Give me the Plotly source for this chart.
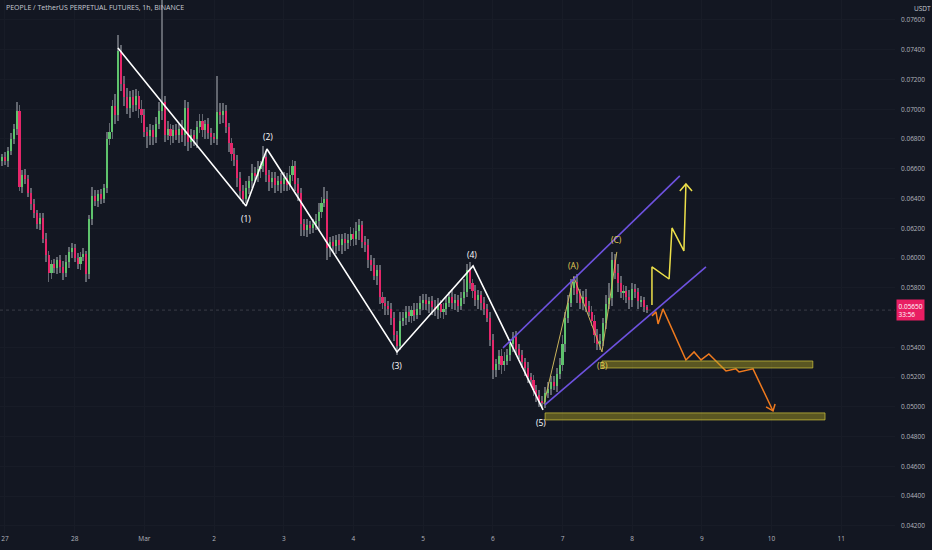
import plotly.graph_objects as go

# ---------------- data (prices in 1e-5 USDT units for candles) ----------------
hours = list(range(-1, 222))  # hour index, 0 = 27 Feb 00:00

first_open_e5 = 6650
close_e5 = [
    6680, 6650, 6720, 6800, 6870, 6990, 6480, 6560, 6530, 6440,
    6360, 6300, 6230, 6270, 6130, 6020, 5900, 5960, 5930, 5990,
    5940, 5900, 5970, 6040, 6070, 6000, 5960, 6010, 6030, 5890,
    6260, 6420, 6380, 6430, 6400, 6470, 6800, 6850, 7020, 6960,
    7390, 7170, 7080, 7010, 7080, 7030, 7090, 7000, 6960, 6850,
    6820, 6860, 6810, 6900, 6990, 7050, 6830, 6870, 6820, 6860,
    6830, 6870, 6830, 7010, 6780, 6830, 6800, 6880, 6920, 6860,
    6900, 6840, 6810, 6800, 6980, 6960, 6990, 6880, 6770, 6700,
    6660, 6540, 6450, 6400, 6470, 6520, 6570, 6550, 6600, 6620,
    6680, 6560, 6510, 6540, 6490, 6520, 6500, 6540, 6490, 6560,
    6620, 6500, 6440, 6230, 6190, 6220, 6200, 6230, 6250, 6310,
    6370, 6400, 6070, 6110, 6080, 6120, 6090, 6130, 6100, 6120,
    6160, 6130, 6180, 6220, 6110, 6090, 5990, 5950, 5880, 5920,
    5740, 5700, 5680, 5660, 5600, 5480, 5410, 5580, 5600, 5640,
    5610, 5650, 5620, 5660, 5700, 5720, 5690, 5710, 5670, 5650,
    5690, 5640, 5660, 5700, 5740, 5700, 5720, 5680, 5730, 5770,
    5920, 5830, 5780, 5720, 5750, 5700, 5660, 5600, 5450, 5250,
    5290, 5340, 5280, 5310, 5350, 5420, 5470, 5390, 5350, 5300,
    5260, 5200, 5180, 5110, 5080, 5040, 5030, 5090, 5120, 5170,
    5140, 5220, 5280, 5420, 5600, 5700, 5800, 5840, 5760, 5700,
    5740, 5680, 5640, 5580, 5480, 5420, 5440, 5560, 5690, 5730,
    5990, 5900, 5830, 5770, 5780, 5740, 5720, 5790, 5770, 5710,
    5720, 5670, 5650,
]
upper_wick_e5 = [
    20, 30, 25, 40, 30, 60, 40, 30, 35, 25,
    30, 40, 25, 35, 30, 40, 25, 30, 35, 20,
    30, 40, 50, 35, 30, 25, 35, 30, 40, 20,
    30, 60, 40, 30, 35, 30, 50, 60, 45, 80,
    110, 40, 50, 60, 40, 50, 45, 30, 60, 40,
    30, 40, 35, 50, 60, 750, 40, 50, 30, 35,
    40, 30, 60, 50, 40, 35, 30, 40, 50, 45,
    30, 40, 35, 30, 240, 60, 50, 40, 30, 35,
    40, 30, 35, 40, 50, 30, 60, 40, 50, 30,
    70, 40, 30, 35, 40, 30, 50, 40, 30, 60,
    40, 30, 40, 30, 35, 40, 30, 35, 45, 60,
    40, 80, 50, 30, 40, 35, 40, 30, 35, 40,
    50, 40, 60, 40, 30, 35, 40, 30, 50, 30,
    35, 30, 40, 30, 35, 40, 30, 60, 40, 35,
    40, 30, 50, 40, 45, 35, 40, 30, 35, 45,
    40, 30, 35, 40, 30, 50, 35, 30, 40, 90,
    40, 50, 30, 40, 35, 30, 40, 30, 35, 40,
    30, 40, 50, 60, 40, 35, 30, 40, 30, 35,
    30, 40, 30, 35, 40, 30, 35, 40, 50, 40,
    35, 40, 50, 60, 40, 50, 60, 40, 50, 35,
    40, 50, 30, 40, 35, 40, 50, 40, 60, 100,
    50, 40, 60, 50, 40, 30, 45, 40, 35, 30,
    25, 20, 15,
]
lower_wick_e5 = [
    30, 25, 40, 30, 35, 40, 30, 40, 35, 30,
    40, 30, 35, 40, 30, 50, 60, 40, 30, 35,
    40, 50, 30, 35, 40, 30, 35, 40, 30, 50,
    30, 40, 30, 35, 40, 30, 35, 40, 50, 60,
    40, 50, 60, 40, 70, 50, 40, 60, 50, 40,
    80, 60, 50, 40, 30, 60, 50, 40, 60, 50,
    40, 60, 50, 80, 60, 40, 50, 60, 40, 50,
    60, 40, 50, 30, 40, 60, 50, 40, 60, 50,
    40, 60, 50, 40, 30, 40, 50, 30, 40, 60,
    40, 50, 60, 40, 50, 40, 60, 50, 40, 30,
    40, 50, 60, 80, 40, 50, 40, 30, 40, 60,
    40, 30, 80, 60, 40, 50, 40, 60, 50, 40,
    40, 50, 40, 60, 40, 50, 60, 40, 30, 60,
    50, 40, 60, 40, 50, 40, 60, 30, 40, 50,
    40, 50, 40, 30, 40, 50, 40, 60, 50, 40,
    60, 40, 50, 40, 30, 40, 50, 40, 30, 40,
    30, 40, 50, 40, 60, 50, 40, 30, 40, 60,
    50, 40, 60, 40, 30, 40, 50, 40, 30, 40,
    50, 40, 30, 40, 50, 40, 30, 40, 30, 40,
    30, 40, 30, 40, 50, 40, 30, 50, 60, 40,
    50, 40, 30, 40, 50, 40, 40, 30, 40, 30,
    50, 40, 60, 40, 50, 40, 60, 50, 40, 50,
    40, 30, 20,
]

day_tick_hours = [0, 24, 48, 72, 96, 120, 144, 168, 192, 216, 240, 264, 288]
day_tick_labels = ["27", "28", "Mar", "2", "3", "4", "5", "6", "7", "8", "9", "10", "11"]
price_ticks = [0.076, 0.074, 0.072, 0.070, 0.068, 0.066, 0.064, 0.062, 0.060,
               0.058, 0.054, 0.052, 0.050, 0.048, 0.046, 0.044, 0.042]
last_price = 0.05650
countdown = "33:56"

# drawings (hour index, price)
wave_h = [38.9, 83.0, 90.2, 135.0, 161.2, 185.3]
wave_p = [0.07412, 0.06350, 0.06733, 0.05369, 0.05947, 0.04979]
wave_labels = ["(1)", "(2)", "(3)", "(4)", "(5)"]
wave_label_h = [83.0, 90.6, 135.0, 160.8, 184.6]
wave_label_p = [0.06263, 0.06814, 0.05281, 0.06021, 0.04892]

abc_h = [185.6, 195.9, 205.6, 210.7]
abc_p = [0.05019, 0.05873, 0.05369, 0.06041]
abc_labels = ["(A)", "(B)", "(C)"]
abc_label_h = [195.9, 205.9, 210.7]
abc_label_p = [0.05947, 0.05281, 0.06122]

chan_upper_h = [171.5, 232.4]
chan_upper_p = [0.05396, 0.06552]
chan_lower_h = [185.9, 241.4]
chan_lower_p = [0.05013, 0.05940]

bull_h = [222.8, 222.8, 228.7, 229.7, 233.8, 234.5]
bull_p = [0.05685, 0.05940, 0.05859, 0.06202, 0.06048, 0.06498]
bull_head_h = [232.4, 234.5, 236.6]
bull_head_p = [0.06451, 0.06498, 0.06451]

bear_h = [222.8, 224.2, 224.9, 226.6, 234.5, 237.3, 239.7, 242.4, 248.3, 251.7, 252.8, 257.6, 264.5]
bear_p = [0.05611, 0.05638, 0.05557, 0.05658, 0.05315, 0.05369, 0.05315, 0.05355,
          0.05241, 0.05255, 0.05234, 0.05255, 0.04972]
bear_head_h = [262.1, 264.5, 265.2]
bear_head_p = [0.04999, 0.04972, 0.05019]

zone_upper = dict(h0=205.6, h1=278.2, p0=0.05261, p1=0.05308)
zone_lower = dict(h0=186.0, h1=282.4, p0=0.04912, p1=0.04959)

# ---------------- build candles ----------------
S = 1e-5
opens = [first_open_e5] + close_e5[:-1]
n = min(len(hours), len(close_e5), len(upper_wick_e5), len(lower_wick_e5))
hx, body_base, body_h, body_col, wick_base, wick_h = [], [], [], [], [], []
UP, DOWN = "#5fc36d", "#e5266a"
for i in range(n):
    o, c = opens[i], close_e5[i]
    hi = max(o, c) + upper_wick_e5[i]
    lo = min(o, c) - lower_wick_e5[i]
    hx.append(hours[i])
    body_base.append(min(o, c) * S)
    body_h.append(max(abs(c - o), 3) * S)
    body_col.append(UP if c >= o else DOWN)
    wick_base.append(lo * S)
    wick_h.append((hi - lo) * S)

BG = "#131722"
fig = go.Figure()
fig.add_trace(go.Bar(x=hx, y=wick_h, base=wick_base, width=0.3,
                     marker=dict(color="#62666f", line=dict(width=0)), hoverinfo="skip"))
fig.add_trace(go.Bar(x=hx, y=body_h, base=body_base, width=0.72,
                     marker=dict(color=body_col, line=dict(width=0)), hoverinfo="skip"))

def line(xs, ys, color, width):
    fig.add_trace(go.Scatter(x=xs, y=ys, mode="lines", line=dict(color=color, width=width),
                             hoverinfo="skip"))

line(wave_h, wave_p, "#ffffff", 1.6)
line(abc_h, abc_p, "#c9b45c", 1.0)
line(chan_upper_h, chan_upper_p, "#6e52e0", 1.6)
line(chan_lower_h, chan_lower_p, "#6e52e0", 1.6)
line(bull_h, bull_p, "#ede04a", 1.5)
line(bull_head_h, bull_head_p, "#ede04a", 1.5)
line(bear_h, bear_p, "#ef7a1e", 1.5)
line(bear_head_h, bear_head_p, "#ef7a1e", 1.5)

shapes = []
for z in (zone_upper, zone_lower):
    shapes.append(dict(type="rect", xref="x", yref="y", x0=z["h0"], x1=z["h1"], y0=z["p0"], y1=z["p1"],
                       fillcolor="rgba(177,167,36,0.45)", line=dict(color="rgba(200,190,60,0.75)", width=1),
                       layer="above"))
shapes.append(dict(type="line", xref="paper", yref="y", x0=0, x1=1, y0=last_price, y1=last_price,
                   line=dict(color="rgba(150,150,160,0.30)", width=1, dash="dot"), layer="below"))

annotations = []
FONT = "Open Sans"
for t, hh, pp in zip(wave_labels, wave_label_h, wave_label_p):
    annotations.append(dict(x=hh, y=pp, xref="x", yref="y", text=t, showarrow=False,
                            font=dict(family=FONT, size=8.5, color="#ffffff")))
for t, hh, pp in zip(abc_labels, abc_label_h, abc_label_p):
    annotations.append(dict(x=hh, y=pp, xref="x", yref="y", text=t, showarrow=False,
                            font=dict(family=FONT, size=8.5, color="#e3cd55")))
annotations.append(dict(x=0.004, y=0.985, xref="paper", yref="paper", xanchor="left", yanchor="middle",
                        text="PEOPLE / TetherUS PERPETUAL FUTURES, 1h, BINANCE", showarrow=False,
                        font=dict(family=FONT, size=7, color="#c8cbd3")))
annotations.append(dict(x=1.0, y=1.0, xref="paper", yref="paper", xanchor="left", yanchor="top",
                        xshift=17, yshift=-2, text="USDT", showarrow=False,
                        font=dict(family=FONT, size=6.5, color="#c8cbd3")))
annotations.append(dict(x=1.0, y=last_price, xref="paper", yref="y", xanchor="left", yanchor="middle",
                        xshift=1, text=f"{last_price:.5f}<br>{countdown}", showarrow=False, align="left",
                        bgcolor="#e91e63", borderpad=1.5,
                        font=dict(family=FONT, size=6.5, color="#ffffff")))

fig.update_layout(
    width=932, height=550,
    margin=dict(l=0, r=37, t=0, b=17),
    paper_bgcolor=BG, plot_bgcolor=BG,
    barmode="overlay", bargap=0,
    showlegend=False,
    shapes=shapes, annotations=annotations,
    xaxis=dict(range=[-1.72, 306.5], tickvals=day_tick_hours, ticktext=day_tick_labels,
               showgrid=True, gridcolor="#181c27", zeroline=False, showline=False,
               ticks="", tickfont=dict(family=FONT, size=6.5, color="#b2b5be")),
    yaxis=dict(range=[0.04152, 0.07734], side="right", tickvals=price_ticks, tickformat=".5f",
               showgrid=True, gridcolor="#181c27", zeroline=False, showline=False,
               ticks="", ticklabelstandoff=5,
               tickfont=dict(family=FONT, size=6.5, color="#b2b5be")),
)
fig.write_html("out.html",
               config={"displayModeBar": False},
               post_script="document.body.style.margin='0';document.body.style.padding='0';"
                           "document.body.style.overflow='hidden';"
                           "document.body.style.background='" + BG + "';")
